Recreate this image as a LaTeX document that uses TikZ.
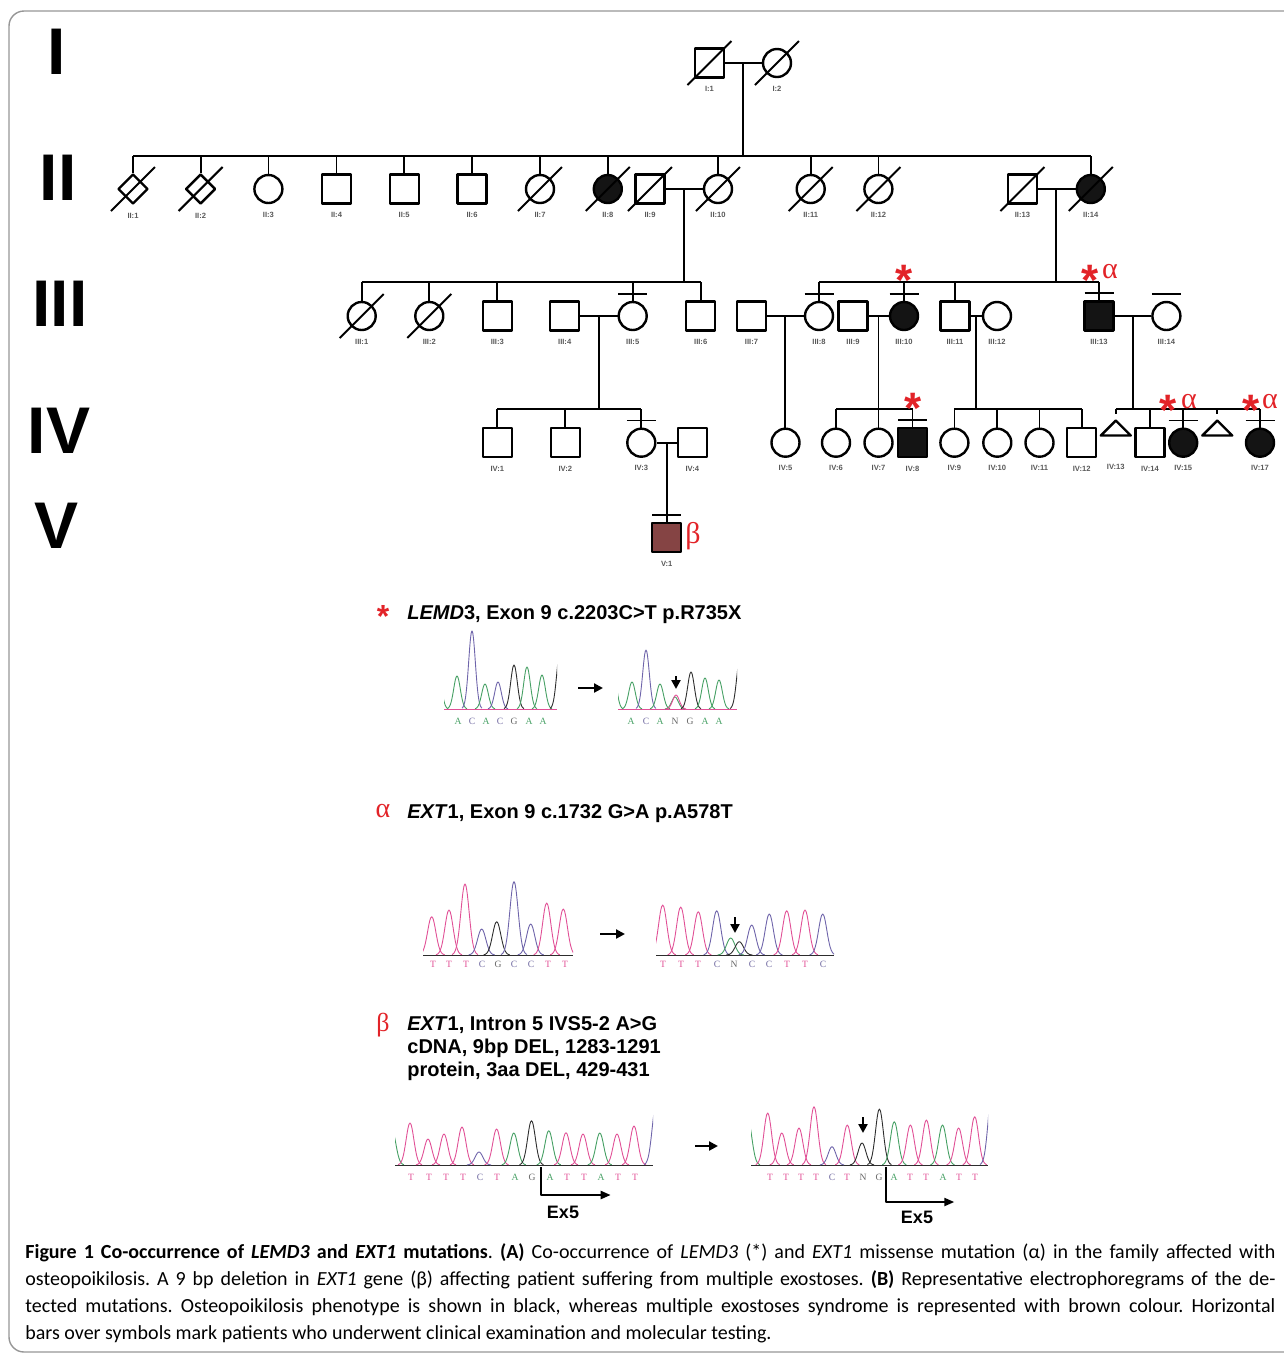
\documentclass[tikz,border=0pt]{standalone}
\usepackage{fontspec}
\setmainfont{Liberation Sans}
\newfontfamily\capfont{Carlito}
\newfontfamily\greekfont{Liberation Serif}
\usetikzlibrary{shapes.geometric,arrows.meta}
\frenchspacing

\definecolor{mutred}{RGB}{226,35,40}
\definecolor{exobrown}{RGB}{133,68,68}
\definecolor{framegray}{RGB}{150,150,150}
\definecolor{baseA}{RGB}{70,160,100}
\definecolor{baseC}{RGB}{110,100,170}
\definecolor{baseG}{RGB}{45,45,45}
\definecolor{baseT}{RGB}{225,80,150}
\colorlet{seqA}{baseA}
\colorlet{seqC}{baseC!80!gray}
\colorlet{seqG}{black!60}
\colorlet{seqT}{baseT}
\colorlet{seqN}{black!60}

% one peak of a trace: colour, x, base line, top
\def\ephw{22}
\def\ephd{10}
\newcommand{\ephpeak}[4]{%
  \draw[ephline,#1] plot[domain=-\ephd:\ephd,samples=25,smooth]
    ({#2+\x},{#3-(#3-#4)*exp(-(\x*\x)/\ephw)});}

\tikzset{
  pline/.style={line width=0.9pt},
  ped/.style={draw, line width=1.2pt, fill=white, inner sep=0pt},
  male/.style={ped, rectangle, minimum size=14.5pt},
  female/.style={ped, circle, minimum size=14pt},
  sexunk/.style={ped, diamond, aspect=1, minimum width=15pt, minimum height=15pt},
  aff/.style={fill=black!92},
  lbl/.style={font=\fontsize{3.8}{4}\selectfont\bfseries, text=black!65, inner sep=0.4pt},
  tag/.style={label={[lbl]below:{#1}}},
  slash/.style={line width=1pt},
  gen/.style={font=\fontsize{33}{33}\selectfont\bfseries, inner sep=0pt},
  mstar/.style={font=\fontsize{22}{22}\selectfont\bfseries, text=mutred, inner sep=0pt, anchor=north},
  mgreek/.style={font=\fontsize{15}{15}\selectfont\greekfont, text=mutred, inner sep=0pt, anchor=base},
  head/.style={font=\fontsize{10}{12}\selectfont\bfseries, inner sep=0pt, anchor=base west},
  ephline/.style={line width=0.45pt},
  seq/.style={font=\fontsize{4.8}{5}\selectfont\greekfont, inner sep=0pt},
  pointer/.style={line width=1.1pt, -{Triangle[length=4.5pt,width=4.5pt]}},
  exarrow/.style={line width=1.1pt, -{Triangle[length=5pt,width=4pt]}},
  exlbl/.style={font=\fontsize{9}{10}\selectfont\bfseries, inner sep=0pt}
}

\begin{document}
\begin{tikzpicture}[x=0.5pt,y=-0.5pt,line join=round,label distance=3.2pt]
\useasboundingbox (0,0) rectangle (1284,1357);

% frame
\draw[framegray, line width=0.7pt, rounded corners=7.5pt] (1310,11) -- (9,11) -- (9,1352) -- (1310,1352);

% generations
\node[gen] (gI) at (57,51.5) {I};
\node[gen] (gII) at (58,178) {II};
\node[gen] (gIII) at (60,304) {III};
\node[gen] (gIV) at (59,431) {IV};
\node[gen] (gV) at (57,526) {V};

% generation I
\node[male, tag=I:1] (I1) at (709.5,63) {};
\node[female, tag=I:2] (I2) at (777,63) {};
\coordinate (c1) at (743,63);
\coordinate (s2) at (743,156);

% generation II
\node[sexunk, tag=II:1] (II1) at (133,189) {};
\node[sexunk, tag=II:2] (II2) at (200.6,189) {};
\node[female, tag=II:3] (II3) at (268.4,189) {};
\node[male, tag=II:4] (II4) at (336.5,189) {};
\node[male, tag=II:5] (II5) at (404.2,189) {};
\node[male, tag=II:6] (II6) at (472,189) {};
\node[female, tag=II:7] (II7) at (540,189) {};
\node[female, aff, tag=II:8] (II8) at (607.8,189) {};
\node[male, tag=II:9] (II9) at (650,189) {};
\node[female, tag=II:10] (II10) at (718,189) {};
\node[female, tag=II:11] (II11) at (810.7,189) {};
\node[female, tag=II:12] (II12) at (878.4,189) {};
\node[male, tag=II:13] (II13) at (1022.4,189) {};
\node[female, aff, tag=II:14] (II14) at (1090.8,189) {};
\coordinate (c2a) at (684,189);
\coordinate (s3a) at (684,282);
\coordinate (c2b) at (1056,189);
\coordinate (s3b) at (1056,282);

% generation III
\node[female, tag=III:1] (III1) at (361.7,316) {};
\node[female, tag=III:2] (III2) at (429.3,316) {};
\node[male, tag=III:3] (III3) at (497.3,316) {};
\node[male, tag=III:4] (III4) at (564.7,316) {};
\node[female, tag=III:5] (III5) at (632.7,316) {};
\node[male, tag=III:6] (III6) at (700.7,316) {};
\node[male, tag=III:7] (III7) at (751.5,316) {};
\node[female, tag=III:8] (III8) at (819,316) {};
\node[male, tag=III:9] (III9) at (853,316) {};
\node[female, aff, tag=III:10] (III10) at (904,316) {};
\node[male, tag=III:11] (III11) at (955,316) {};
\node[female, tag=III:12] (III12) at (997,316) {};
\node[male, aff, tag=III:13] (III13) at (1099,316) {};
\node[female, tag=III:14] (III14) at (1166.4,316) {};
\coordinate (c3a) at (599,316);
\coordinate (s4a) at (599,409);
\coordinate (c3b) at (785,316);
\coordinate (c3c) at (878.5,316);
\coordinate (s4c) at (878.5,409);
\coordinate (c3d) at (975.6,316);
\coordinate (s4d) at (975.6,409);
\coordinate (c3e) at (1133,316);
\coordinate (s4e) at (1133,409);

% generation IV
\node[male, tag=IV:1] (IV1) at (497.3,442.7) {};
\node[male, tag=IV:2] (IV2) at (565.3,442.7) {};
\node[female, tag=IV:3] (IV3) at (641.3,442.7) {};
\node[male, tag=IV:4] (IV4) at (692.3,442.7) {};
\node[female, tag=IV:5] (IV5) at (785.5,442.7) {};
\node[female, tag=IV:6] (IV6) at (836,442.7) {};
\node[female, tag=IV:7] (IV7) at (878.5,442.7) {};
\node[male, aff, tag=IV:8] (IV8) at (912.5,442.7) {};
\node[female, tag=IV:9] (IV9) at (954.4,442.7) {};
\node[female, tag=IV:10] (IV10) at (997.3,442.7) {};
\node[female, tag=IV:11] (IV11) at (1039.5,442.7) {};
\node[male, tag=IV:12] (IV12) at (1081.7,442.7) {};
\coordinate (IV13) at (1115.8,428);
\node[male, tag=IV:14] (IV14) at (1150,442.7) {};
\node[female, aff, tag=IV:15] (IV15) at (1183.2,442.7) {};
\coordinate (IV16) at (1217.3,428);
\node[female, aff, tag=IV:17] (IV17) at (1260,442.7) {};
\node[lbl] (IV13l) at (1115.8,467.3) {IV:13};
\coordinate (c4) at (667.3,442.7);

% generation V
\node[male, fill=exobrown, tag=V:1] (V1) at (666.7,537.5) {};

% triangles
\draw[line width=1.2pt] (IV13) ++(-15,7.5) -- ++(15,-15) -- ++(15,15) -- cycle;
\draw[line width=1.2pt] (IV16) ++(-15,7.5) -- ++(15,-15) -- ++(15,15) -- cycle;

% lines of descent
\draw[pline] (I1) -- (I2);
\draw[pline] (c1) -- (s2);
\draw[pline] (II1.north |- s2) -- (II14.north |- s2);
\foreach \k in {II1,II2,II3,II4,II5,II6,II7,II8,II10,II11,II12,II14}
  \draw[pline] (\k.north |- s2) -- (\k.north);

\draw[pline] (II9) -- (II10);
\draw[pline] (c2a) -- (s3a);
\draw[pline] (II13) -- (II14);
\draw[pline] (c2b) -- (s3b);
\draw[pline] (III1.north |- s3a) -- (III6.north |- s3a);
\foreach \k in {III1,III2,III3,III5,III6}
  \draw[pline] (\k.north |- s3a) -- (\k.north);
\draw[pline] (III8.north |- s3b) -- (III13.north |- s3b);
\foreach \k in {III8,III10,III11,III13}
  \draw[pline] (\k.north |- s3b) -- (\k.north);

\draw[pline] (III4) -- (III5);
\draw[pline] (III7) -- (III8);
\draw[pline] (III9) -- (III10);
\draw[pline] (III11) -- (III12);
\draw[pline] (III13) -- (III14);
\draw[pline] (c3a) -- (s4a);
\draw[pline] (c3b) -- (c3b |- IV5.north);
\draw[pline] (c3c) -- (s4c);
\draw[pline] (c3d) -- (s4d);
\draw[pline] (c3e) -- (s4e);

\draw[pline] (IV1.north |- s4a) -- (IV3.north |- s4a);
\draw[pline] (IV6.north |- s4c) -- (IV8.north |- s4c);
\draw[pline] (IV9.north |- s4d) -- (IV12.north |- s4d);
\draw[pline] (IV13 |- s4e) -- (IV17.north |- s4e);
\foreach \k in {IV1,IV2,IV3,IV6,IV7,IV8,IV9,IV10,IV11,IV12,IV14,IV15,IV17}
  \draw[pline] (\k.north |- s4a) -- (\k.north);
\draw[pline] (IV13 |- s4e) -- ++(0,5);
\draw[pline] (IV16 |- s4e) -- ++(0,5);

\draw[pline] (IV3) -- (IV4);
\draw[pline] (c4) -- (c4 |- V1.north);

% bars over tested patients
\foreach \k in {III5,III8,III10,III13,III14,IV3,IV8,IV15,IV17,V1}
  \draw[pline] ([xshift=-7.25pt,yshift=3.5pt]\k.north) -- ([xshift=7.25pt,yshift=3.5pt]\k.north);

% deceased
\foreach \k in {I1,I2,II1,II2,II7,II8,II9,II10,II11,II12,II13,II14,III1,III2}
  \draw[slash] ([xshift=-11pt,yshift=-11pt]\k.center) -- ([xshift=11pt,yshift=11pt]\k.center);

% mutation marks
\node[mstar] (m1) at (904,265) {*};
\node[mstar] (m2) at (1090,265) {*};
\node[mgreek] (m2g) at (1110,278) {α};
\node[mstar] (m3) at (913,393) {*};
\node[mstar] (m4) at (1168,395) {*};
\node[mgreek] (m4g) at (1189,408) {α};
\node[mstar] (m5) at (1251,395) {*};
\node[mgreek] (m5g) at (1270,408) {α};
\node[mgreek] (m6g) at (693,543) {β};

% headings
\node[mstar, font=\fontsize{16}{16}\selectfont\bfseries] (h1s) at (383,605) {*};
\node[head] (h1) at (407,619) {\textit{LEMD}3, Exon 9 c.2203C>T p.R735X};
\node[mgreek, font=\fontsize{14}{14}\selectfont\greekfont] (h2g) at (383,817) {α};
\node[head] (h2) at (407,818.5) {\textit{EXT}1, Exon 9 c.1732 G>A p.A578T};
\node[mgreek, font=\fontsize{13}{13}\selectfont\greekfont] (h3g) at (383,1031) {β};
\node[head] (h3a) at (407,1030) {\textit{EXT}1, Intron 5 IVS5-2 A>G};
\node[head] (h3b) at (407,1053) {cDNA, 9bp DEL, 1283-1291};
\node[head] (h3c) at (407,1076) {protein, 3aa DEL, 429-431};

% LEMD3 traces
\begin{scope}
\clip (444,600) rectangle (557,712);
\draw[baseT, line width=0.5pt] (444,709) -- (557,709);
\foreach \px/\py/\pc in {438/668/baseA, 457/676/baseA, 472/631/baseC, 485/684/baseA,
    498/682/baseC, 514/665/baseG, 527/667/baseA, 542/675/baseA, 560/652/baseG}
  {\ephpeak{\pc}{\px}{709}{\py}}
\end{scope}
\begin{scope}
\clip (618,600) rectangle (737,712);
\draw[baseT, line width=0.5pt] (618,709) -- (737,709);
\foreach \px/\py/\pc in {613/668/baseA, 632/682/baseA, 646/650/baseC, 660/684/baseA,
    675/697/baseA, 676/695/baseT, 691/672/baseG, 705/678/baseA, 719/680/baseA, 740/658/baseG}
  {\ephpeak{\pc}{\px}{709}{\py}}
\end{scope}
\foreach \lx/\lt in {458/A,472/C,486/A,500/C,514/G,529/A,543/A}
  \node[seq, text=seq\lt] (e1w-\lx) at (\lx,721) {\lt};
\foreach \lx/\lt in {631/A,646/C,660/A,675/N,690/G,705/A,719/A}
  \node[seq, text=seq\lt] (e1m-\lx) at (\lx,721) {\lt};
\coordinate (r1) at (578,688);
\draw[pointer] (r1) -- ++(25,0);
\coordinate (d1) at (676,676);
\draw[pointer] (d1) -- ++(0,13);

% EXT1 exon 9 traces
\begin{scope}
\def\ephw{34}\def\ephd{13}
\clip (423,850) rectangle (573,958);
\draw[baseG, line width=0.5pt] (423,955) -- (573,955);
\foreach \px/\py/\pc in {431.7/916.7/baseT, 449/910/baseT, 465/884/baseT, 481.7/929/baseC,
    496.7/921.7/baseG, 514/881.7/baseC, 530.7/924/baseC, 546.7/903/baseT, 563.3/909/baseT}
  {\ephpeak{\pc}{\px}{955}{\py}}
\end{scope}
\begin{scope}
\def\ephw{34}\def\ephd{13}
\clip (656,850) rectangle (834,958);
\draw[baseG, line width=0.5pt] (656,955) -- (834,955);
\foreach \px/\py/\pc in {662.7/905/baseT, 680.7/907/baseT, 698.3/911.7/baseT, 716.7/910.7/baseC,
    730.7/938/baseA, 739.3/941.7/baseG, 751.7/925/baseC, 769.3/914/baseC, 786.7/910.7/baseT,
    805/910/baseT, 822.7/914/baseC}
  {\ephpeak{\pc}{\px}{955}{\py}}
\end{scope}
\foreach \lx/\lt in {433/T,449/T,466/T,482/C,498/G,514/C,531/C,548/T,565/T}
  \node[seq, text=seq\lt] (e2w-\lx) at (\lx,964) {\lt};
\foreach \lx/\lt in {663/T,681/T,698/T,717/C,734/N,752/C,769/C,787/T,805/T,823/C}
  \node[seq, text=seq\lt] (e2m-\lx) at (\lx,964) {\lt};
\coordinate (r2) at (600,934);
\draw[pointer] (r2) -- ++(25,0);
\coordinate (d2) at (735,917);
\draw[pointer] (d2) -- ++(0,16);

% EXT1 intron 5 traces
\begin{scope}
\def\ephw{30}\def\ephd{12}
\clip (395,1090) rectangle (653,1168);
\draw[baseG, line width=0.5pt] (395,1165) -- (653,1165);
\foreach \px/\py/\pc in {392/1130/baseA, 410/1123/baseT, 428/1139/baseT, 444/1134/baseT,
    462/1127/baseT, 479/1152/baseC, 496.6/1129/baseT, 513.8/1133/baseA, 531.5/1120.7/baseG,
    548.8/1130.7/baseA, 566/1132.7/baseT, 583/1134/baseT, 599.8/1133/baseA, 617/1134/baseT,
    634/1126/baseT, 656/1105/baseC}
  {\ephpeak{\pc}{\px}{1165}{\py}}
\end{scope}
\begin{scope}
\def\ephw{30}\def\ephd{12}
\clip (751,1085) rectangle (988,1168);
\draw[baseG, line width=0.5pt] (751,1165) -- (988,1165);
\foreach \px/\py/\pc in {748/1120/baseA, 767.7/1113/baseT, 781.8/1133/baseT, 799/1128/baseT,
    814/1106.7/baseT, 832/1146.7/baseC, 847.3/1125/baseT, 862/1143/baseG, 879.4/1109/baseG,
    894.3/1121.7/baseA, 910.4/1125/baseT, 926.4/1120/baseT, 942.5/1125/baseA, 958.6/1128/baseT,
    974.7/1116.7/baseT, 992/1092/baseC}
  {\ephpeak{\pc}{\px}{1165}{\py}}
\end{scope}
\foreach \lx/\lt in {411/T,429/T,446/T,463/T,480/C,497/T,515/A,532/G,550/A,567/T,584/T,601/A,618/T,635/T}
  \node[seq, text=seq\lt] (e3w-\lx) at (\lx,1177) {\lt};
\foreach \lx/\lt in {770/T,786/T,801/T,816/T,832/C,847/T,863/N,879/G,894/A,910/T,926/T,943/A,959/T,975/T}
  \node[seq, text=seq\lt] (e3m-\lx) at (\lx,1177) {\lt};
\coordinate (r3) at (695,1146);
\draw[pointer] (r3) -- ++(23,0);
\coordinate (d3) at (863,1117);
\draw[pointer] (d3) -- ++(0,16);

% exon 5 start
\coordinate (x1) at (540.7,1167);
\draw[exarrow] (x1) |- ++(70,28);
\node[exlbl] (x1l) at (563,1212) {Ex5};
\coordinate (x2) at (886.3,1167);
\draw[exarrow] (x2) |- ++(68,35);
\node[exlbl] (x2l) at (917,1217.5) {Ex5};

% caption
\node[anchor=north west, inner sep=0pt, text width=625pt, align=justify,
  font=\capfont\fontsize{10}{13.5}\selectfont] (cap) at (25,1243)
  {\textbf{Figure 1 Co-occurrence of \textit{LEMD3} and \textit{EXT1} mutations}. \textbf{(A)} Co-occurrence of \textit{LEMD3} (*) and \textit{EXT1} missense mutation (α) in the family affected with\linebreak
  osteopoikilosis. A 9 bp deletion in \textit{EXT1} gene (β) affecting patient suffering from multiple exostoses. \textbf{(B)} Representative electrophoregrams of the de-\linebreak
  tected mutations. Osteopoikilosis phenotype is shown in black, whereas multiple exostoses syndrome is represented with brown colour. Horizontal\linebreak
  bars over symbols mark patients who underwent clinical examination and molecular testing.};

\end{tikzpicture}
\end{document}
